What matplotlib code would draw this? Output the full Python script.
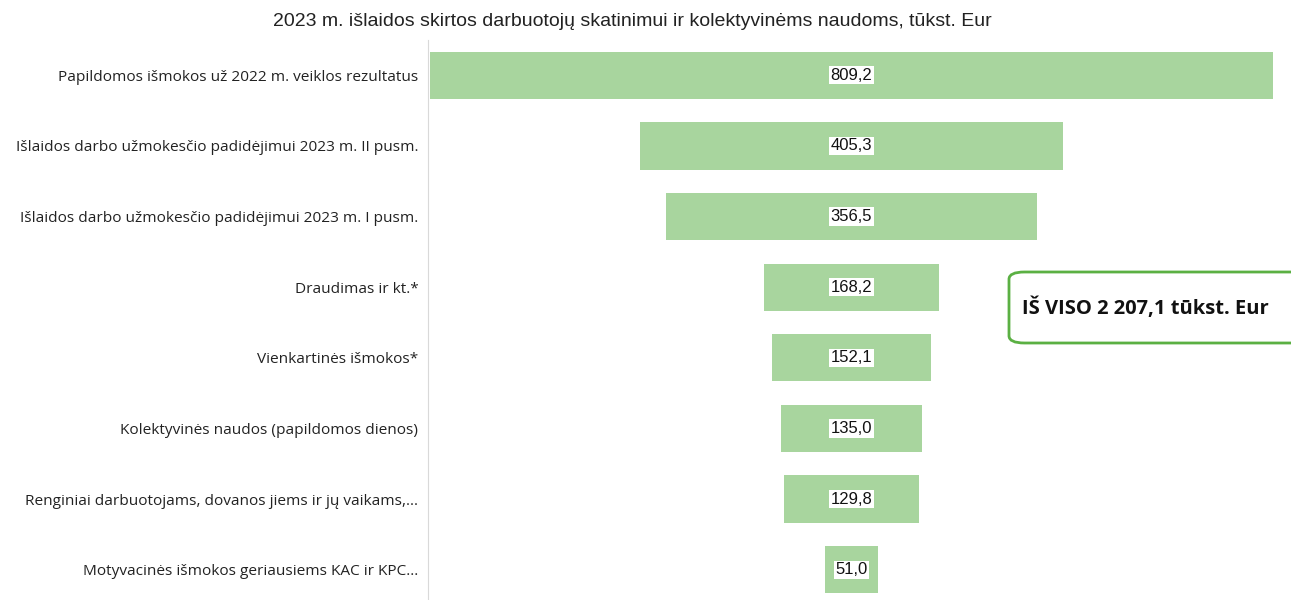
import matplotlib.pyplot as plt
from matplotlib.patches import FancyBboxPatch

# funnel chart of 2023 spending
categories = [
    "Papildomos išmokos už 2022 m. veiklos rezultatus",
    "Išlaidos darbo užmokesčio padidėjimui 2023 m. II pusm.",
    "Išlaidos darbo užmokesčio padidėjimui 2023 m. I pusm.",
    "Draudimas ir kt.*",
    "Vienkartinės išmokos*",
    "Kolektyvinės naudos (papildomos dienos)",
    "Renginiai darbuotojams, dovanos jiems ir jų vaikams,...",
    "Motyvacinės išmokos geriausiems KAC ir KPC...",
]
values = [809.2, 405.3, 356.5, 168.2, 152.1, 135.0, 129.8, 51.0]
title = "2023 m. išlaidos skirtos darbuotojų skatinimui ir kolektyvinėms naudoms, tūkst. Eur"
total_text = "IŠ VISO 2 207,1 tūkst. Eur"

W, H = 1291, 600
fig = plt.figure(figsize=(W / 100, H / 100), dpi=100)
ax = fig.add_axes([428 / W, -5 / H, 847 / W, 565 / H])

y = list(range(len(values)))
lefts = [-v / 2 for v in values]
ax.barh(y, values, left=lefts, height=0.67, color="#a8d59e")
for yi, v in zip(y, values):
    ax.text(0, yi, f"{v:.1f}".replace(".", ","), ha="center", va="center",
            fontsize=12, family="Liberation Sans", color="#111111",
            bbox=dict(boxstyle="square,pad=0.1", fc="white", ec="none"))

ax.set_xlim(-406.5, 406.5)
ax.set_ylim(len(values) - 0.5, -0.5)
ax.set_yticks(y)
ax.set_yticklabels(categories, fontsize=11.1, family="Open Sans", color="#222222")
ax.tick_params(axis="y", length=0, pad=7)
ax.set_xticks([])
for s in ["top", "right", "bottom"]:
    ax.spines[s].set_visible(False)
ax.spines["left"].set_color("#d9d9d9")

fig.text(632 / W, 1 - 22 / H, title, ha="center", va="center",
         fontsize=14, family="Liberation Sans", color="#222222")

box = FancyBboxPatch((1009 / W, 1 - 343 / H), 300 / W, 71 / H,
                     boxstyle="round,pad=0,rounding_size=0.012",
                     transform=fig.transFigure, fc="white", ec="#5bb043", lw=2)
fig.patches.append(box)
fig.text(1022 / W, 1 - 308 / H, total_text, ha="left", va="center",
         fontsize=14.5, fontweight="bold", family="Open Sans", color="#111111")

fig.savefig("out.png", dpi=100)
